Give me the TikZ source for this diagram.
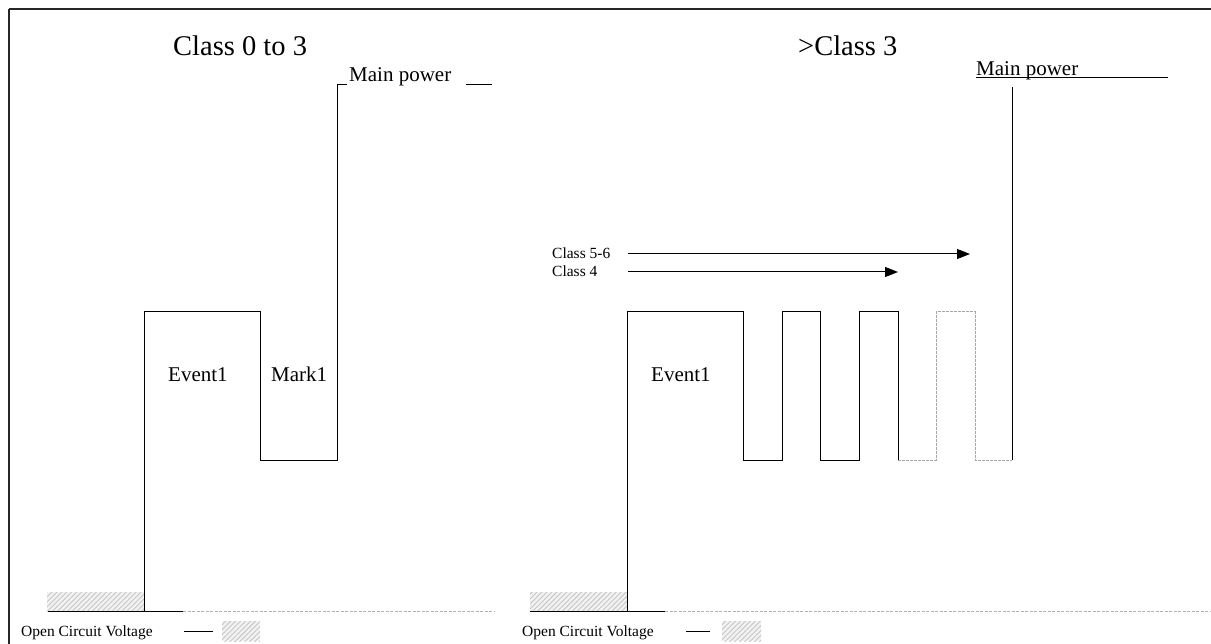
\documentclass[tikz,border=0pt]{standalone}
\usepackage{fontspec}
\setmainfont{Liberation Serif}
\usetikzlibrary{arrows.meta,patterns.meta}
\begin{document}
\begin{tikzpicture}[x=1pt,y=-1pt,
  borderline/.style={draw=black!85, line width=1.2pt},
  wave/.style={draw=black, line width=1pt, line join=miter},
  ghost/.style={draw=gray!70, line width=1pt, dash pattern=on 3pt off 1pt},
  ocv/.style={draw=gray!60, line width=1pt, dash pattern=on 3pt off 1.5pt},
  hatchbg/.style={fill=gray!10},
  hatch/.style={pattern={Lines[angle=45,distance=3.5pt,line width=0.9pt]}, pattern color=gray!45},
  arr/.style={draw=black, line width=1pt, -{Triangle[length=13pt,width=10pt]}},
  title/.style={font=\fontsize{28.5}{30}\selectfont, anchor=base west, inner sep=0pt},
  lab/.style={font=\fontsize{21}{23}\selectfont, anchor=base west, inner sep=0pt},
  small/.style={font=\fontsize{15.5}{17}\selectfont, anchor=base west, inner sep=0pt}
]
\useasboundingbox (0,0) rectangle (1211,644);

% frame
\draw[borderline] (9,644) -- (9,9);
\draw[borderline] (9,9) -- (1211,9);

% titles
\node[title] (t1) at (173,56) {Class 0 to 3};
\node[title] (t2) at (798,56) {>Class 3};

% ---------- left panel ----------
\fill[hatchbg] (47,592) rectangle (144,611);
\fill[hatch] (47,592) rectangle (144,611);
\draw[wave] (48,611) -- (183,611);
\draw[ocv] (183,611) -- (494,611);
\draw[wave] (144,611) -- (144,312) -- (260,312) -- (260,460) -- (337,460) -- (337,85) -- (347,85);
\draw[wave] (466,85) -- (492,85);
\node[lab] (mp1) at (349,82) {Main power};
\node[lab] (ev1) at (168,382) {Event1};
\node[lab] (mk1) at (271,382) {Mark1};

% legend left
\node[small] (lg1) at (21,636) {Open Circuit Voltage};
\draw[wave] (184,631) -- (213,631);
\fill[hatchbg] (222,621) rectangle (260,641);
\fill[hatch] (222,621) rectangle (260,641);

% ---------- right panel ----------
\fill[hatchbg] (530,592) rectangle (627,611);
\fill[hatch] (530,592) rectangle (627,611);
\draw[wave] (530,611) -- (665,611);
\draw[ocv] (665,611) -- (1211,611);
\draw[wave] (627,611) -- (627,312) -- (743,312) -- (743,460) -- (782,460) -- (782,312)
  -- (820,312) -- (820,460) -- (859,460) -- (859,312) -- (898,312) -- (898,460);
\draw[ghost] (898,460) -- (936,460) -- (936,312) -- (975,312) -- (975,460) -- (1012,460);
\draw[wave] (1012,460) -- (1012,87);
\node[lab] (mp2) at (976,76) {Main power};
\draw[wave] (976,78) -- (1168,78);
\node[lab] (ev2) at (651,382) {Event1};

% class arrows
\node[small] (c56) at (552,259) {Class 5-6};
\node[small] (c4) at (552,277) {Class 4};
\coordinate (c56e) at (970,254);
\coordinate (c4e) at (898,272);
\draw[arr] (628,254) -- (c56e);
\draw[arr] (628,272) -- (c4e);

% legend right
\node[small] (lg2) at (522,636) {Open Circuit Voltage};
\draw[wave] (686,631) -- (710,631);
\fill[hatchbg] (722,621) rectangle (761,641);
\fill[hatch] (722,621) rectangle (761,641);
\end{tikzpicture}
\end{document}
